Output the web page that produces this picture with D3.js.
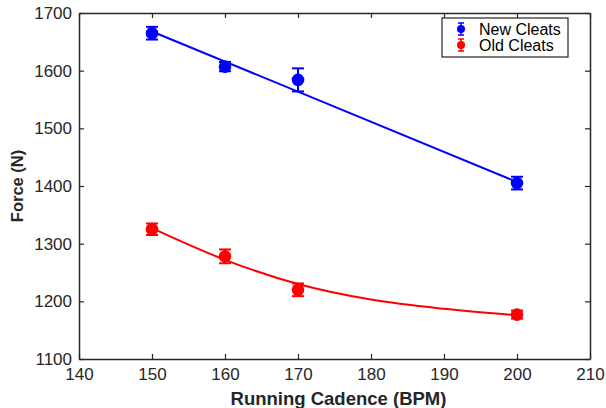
<!DOCTYPE html>
<html>
<head>
<meta charset="utf-8">
<script src="https://cdn.jsdelivr.net/npm/d3@7"></script>
<style>
  body { margin: 0; background: #fff; }
  text { font-family: "Liberation Sans", Arial, sans-serif; }
</style>
</head>
<body>
<svg id="chart" width="606" height="408"></svg>
<script>
// Data
const cadence = [150, 160, 170, 200];
const newForce = [1665, 1607, 1584, 1405];
const newErr = [11, 8, 20, 11];
const oldForce = [1325, 1278, 1220, 1177];
const oldErr = [10, 12, 11, 7];

// Fit lines
const newFitX = [150, 200];
const newFitY = [1668, 1407];
const oldFitX = [150, 160, 170, 180, 190, 200];
const oldFitY = [1327, 1272, 1230, 1203, 1187, 1176];

const xTicks = [140, 150, 160, 170, 180, 190, 200, 210];
const yTicks = [1100, 1200, 1300, 1400, 1500, 1600, 1700];

// Dimensions
const margin = {top: 13, left: 79, right: 16, bottom: 49};
const width = 606;
const height = 408;
const axisColor = '#262626';

const svg = d3.select('#chart');

// Scales
const scaleX = d3.scaleLinear()
  .domain([140, 210])
  .range([margin.left, width - margin.right])
const scaleY = d3.scaleLinear()
  .domain([1100, 1700])
  .range([height - margin.bottom, margin.top])

// Axes
const tickLen = 5;
const fmt = d3.format('d');
const axisBottomG = svg.append('g')
  .attr('transform', `translate(0, ${height - margin.bottom})`)
  .call(d3.axisBottom(scaleX).tickValues(xTicks).tickFormat(fmt).tickSizeInner(-tickLen).tickSizeOuter(0).tickPadding(9))
const axisLeftG = svg.append('g')
  .attr('transform', `translate(${margin.left}, 0)`)
  .call(d3.axisLeft(scaleY).tickValues(yTicks).tickFormat(fmt).tickSizeInner(-tickLen).tickSizeOuter(0).tickPadding(7))
const axisTopG = svg.append('g')
  .attr('transform', `translate(0, ${margin.top})`)
  .call(d3.axisTop(scaleX).tickValues(xTicks).tickSizeInner(-tickLen).tickSizeOuter(0).tickFormat(''))
const axisRightG = svg.append('g')
  .attr('transform', `translate(${width - margin.right}, 0)`)
  .call(d3.axisRight(scaleY).tickValues(yTicks).tickSizeInner(-tickLen).tickSizeOuter(0).tickFormat(''))

for (const g of [axisBottomG, axisLeftG, axisTopG, axisRightG]) {
  g.select('.domain').attr('stroke', axisColor).attr('stroke-width', 1.5)
  g.selectAll('.tick line').attr('stroke', axisColor).attr('stroke-width', 1.2)
  g.selectAll('.tick text')
    .attr('fill', '#262626')
    .style('font-size', '17px')
    .style('font-family', '"Liberation Sans", Arial, sans-serif')
}

// Axis labels
svg.append('text')
  .attr('x', (scaleX(140) + scaleX(210)) / 2 + 4)
  .attr('y', 405)
  .attr('text-anchor', 'middle')
  .attr('font-weight', 'bold')
  .attr('font-size', 18.5)
  .attr('fill', '#262626')
  .text('Running Cadence (BPM)')
svg.append('text')
  .attr('transform', `translate(23, ${(scaleY(1100) + scaleY(1700)) / 2}) rotate(-90)`)
  .attr('text-anchor', 'middle')
  .attr('font-weight', 'bold')
  .attr('font-size', 16.5)
  .attr('fill', '#262626')
  .text('Force (N)')

// Series
const series = [
  {name: 'New Cleats', color: '#0000ff', y: newForce, err: newErr, fitX: newFitX, fitY: newFitY, curve: d3.curveLinear},
  {name: 'Old Cleats', color: '#ff0000', y: oldForce, err: oldErr, fitX: oldFitX, fitY: oldFitY, curve: d3.curveMonotoneX}
];

const plot = svg.append('g');
series.forEach((s) => {
  const fit = s.fitX.map((x, i) => [x, s.fitY[i]]);
  plot.append('path')
    .datum(fit)
    .attr('d', d3.line().x((d) => scaleX(d[0])).y((d) => scaleY(d[1])).curve(s.curve))
    .attr('fill', 'none')
    .attr('stroke', s.color)
    .attr('stroke-width', 2)

  const pts = cadence.map((x, i) => ({x, y: s.y[i], e: s.err[i]}));
  const bars = plot.append('g').attr('stroke', s.color).attr('stroke-width', 2);
  pts.forEach((d) => {
    const cx = scaleX(d.x);
    const y0 = scaleY(d.y - d.e);
    const y1 = scaleY(d.y + d.e);
    bars.append('line').attr('x1', cx).attr('x2', cx).attr('y1', y0).attr('y2', y1)
    bars.append('line').attr('x1', cx - 6).attr('x2', cx + 6).attr('y1', y0).attr('y2', y0)
    bars.append('line').attr('x1', cx - 6).attr('x2', cx + 6).attr('y1', y1).attr('y2', y1)
  })
  plot.append('g')
    .selectAll('circle')
    .data(pts)
    .join('circle')
      .attr('cx', (d) => scaleX(d.x))
      .attr('cy', (d) => scaleY(d.y))
      .attr('r', 6.3)
      .attr('fill', s.color)
})

// Legend
const legend = svg.append('g').attr('transform', 'translate(442, 18)');
legend.append('rect')
  .attr('width', 126)
  .attr('height', 39)
  .attr('fill', '#fff')
  .attr('stroke', axisColor)
  .attr('stroke-width', 1.2)
series.forEach((s, i) => {
  const y = 11 + i * 16;
  const g = legend.append('g').attr('transform', `translate(19, ${y})`);
  g.append('line').attr('y1', -6).attr('y2', 6).attr('stroke', s.color).attr('stroke-width', 1.5)
  g.append('line').attr('x1', -3).attr('x2', 3).attr('y1', -6).attr('y2', -6).attr('stroke', s.color).attr('stroke-width', 1.5)
  g.append('line').attr('x1', -3).attr('x2', 3).attr('y1', 6).attr('y2', 6).attr('stroke', s.color).attr('stroke-width', 1.5)
  g.append('circle').attr('r', 4).attr('fill', s.color)
  legend.append('text')
    .attr('x', 37)
    .attr('y', y + 6)
    .attr('font-size', 16)
    .attr('fill', '#000')
    .text(s.name)
})
</script>
</body>
</html>
